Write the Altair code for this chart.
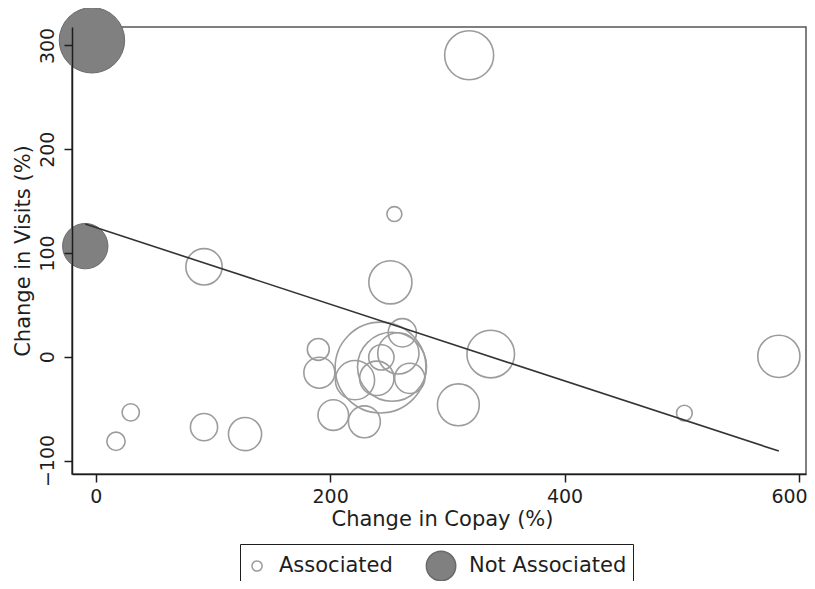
import altair as alt
import pandas as pd

# ---- data ----
# Associated studies (open circles)
assoc_copay = [318.6, 254.8, 92.4, 29.9, 17.3, 92.4, 127.4, 251.4, 189.9, 190.8, 243.0, 252.8,
               261.6, 258.2, 243.7, 221.2, 239.8, 267.9, 202.7, 229.2, 309.4, 337.0, 582.8, 502.2]
assoc_visits = [290.6, 137.5, 86.7, -53.6, -81.5, -67.8, -74.5, 71.7, 7.1, -15.4, -10.4, -9.6,
                23.1, 3.3, -0.6, -22.5, -20.8, -20.8, -56.2, -62.7, -46.3, 2.6, 0.4, -54.3]
assoc_weight = [600, 56, 330, 75, 84, 185, 275, 465, 120, 240, 2060, 1190,
                200, 425, 160, 385, 295, 228, 234, 255, 438, 566, 445, 62]

# Not associated studies (filled circles)
nonassoc_copay = [-3.2, -8.9]
nonassoc_visits = [305.0, 106.6]
nonassoc_weight = [1070, 515]

# fitted line end points
fit_copay = [-8.9, 582.8]
fit_visits = [127.9, -90.9]

groups = ["Associated", "Not Associated"]

FONT = "DejaVu Sans"
DARK = "#1e1e1e"

df_a = pd.DataFrame({"copay": assoc_copay, "visits": assoc_visits, "weight": assoc_weight})
df_n = pd.DataFrame({"copay": nonassoc_copay, "visits": nonassoc_visits, "weight": nonassoc_weight})
df_fit = pd.DataFrame({"copay": fit_copay, "visits": fit_visits})
df_leg = pd.DataFrame({"group": groups})

x_enc = alt.X(
    "copay:Q",
    scale=alt.Scale(domain=[-20.22, 605.97], nice=False, zero=False),
    axis=alt.Axis(
        values=[0, 200, 400, 600], title="Change in Copay (%)", grid=False,
        domainColor=DARK, domainWidth=1.5, tickColor=DARK, tickWidth=1.5, tickSize=8,
        labelFont=FONT, labelFontSize=19, labelColor=DARK, labelPadding=5,
        labelOffset={"condition": {"test": "datum.value === 600", "value": -10}, "value": 0},
        labelFlush=False, labelOverlap=False,
        titleFont=FONT, titleFontSize=21, titleFontWeight="normal", titleColor=DARK,
        titleX=370, titleY=51, titleBaseline="alphabetic", titleAlign="center",
        zindex=1,
    ),
)
y_enc = alt.Y(
    "visits:Q",
    scale=alt.Scale(domain=[-113, 317.8], nice=False, zero=False),
    axis=alt.Axis(
        values=[-100, 0, 100, 200, 300], title="Change in Visits (%)", grid=False,
        domainColor=DARK, domainWidth=1.5, tickColor=DARK, tickWidth=1.5, tickSize=8,
        labelFont=FONT, labelFontSize=19, labelColor=DARK, labelPadding=11,
        labelAngle=270, labelAlign="center", labelBaseline="alphabetic",
        labelFlush=False, labelOverlap=False,
        titleFont=FONT, titleFontSize=21, titleFontWeight="normal", titleColor=DARK,
        titleAngle=270, titleX=-43, titleY=223.5, titleBaseline="alphabetic", titleAlign="center",
        zindex=1,
    ),
)
size_enc = alt.Size(
    "weight:Q",
    scale=alt.Scale(type="linear", domain=[0, 2500], range=[0, 10000]),
    legend=None,
)

assoc = alt.Chart(df_a).mark_point(
    shape="circle", filled=False, stroke="#9c9c9c", strokeWidth=1.6, opacity=1
).encode(x=x_enc, y=y_enc, size=size_enc)

nonassoc = alt.Chart(df_n).mark_point(
    shape="circle", filled=True, fill="#808080", stroke="#6a6a6a", strokeWidth=1, opacity=1
).encode(x=x_enc, y=y_enc, size=size_enc)

fit = alt.Chart(df_fit).mark_line(color="#333333", strokeWidth=1.6).encode(x=x_enc, y=y_enc)

# legend symbols: small open circle / big filled circle (extra move-to points give equal heights)
small_path = "M-0.33,-1.4M-0.33,1.4M-0.67,0A0.34,0.34,0,1,1,0.01,0A0.34,0.34,0,1,1,-0.67,0Z"
big_path = "M-0.73,-1.4M-0.73,1.4M-1.71,0A0.98,0.98,0,1,1,0.25,0A0.98,0.98,0,1,1,-1.71,0Z"

leg = alt.Legend(
    orient="none", legendX=168, legendY=517, direction="horizontal", columns=2,
    columnPadding=30, padding=6, strokeColor=DARK, fillColor="white",
    symbolSize=900, symbolStrokeWidth=1.5,
    labelFont=FONT, labelFontSize=21, labelColor=DARK, labelOffset=1, labelLimit=400,
    title=None,
)

legend_layer = alt.Chart(df_leg).mark_point(filled=True, opacity=1).encode(
    shape=alt.Shape("group:N", scale=alt.Scale(domain=groups, range=[small_path, big_path]), legend=leg),
    fill=alt.Fill("group:N", scale=alt.Scale(domain=groups, range=["white", "#808080"]), legend=leg),
    stroke=alt.Stroke("group:N", scale=alt.Scale(domain=groups, range=["#9c9c9c", "#6a6a6a"]), legend=leg),
).transform_filter("false")

chart = alt.layer(assoc, nonassoc, fit, legend_layer).properties(
    width=734,
    height=447,
    padding={"left": 64, "top": 19, "right": 1, "bottom": 107},
    autosize=alt.AutoSizeParams(type="none"),
    background="white",
).configure_view(stroke="#555555", strokeWidth=1.5)

chart.save("out.html", embed_options={"renderer": "svg", "actions": False})
